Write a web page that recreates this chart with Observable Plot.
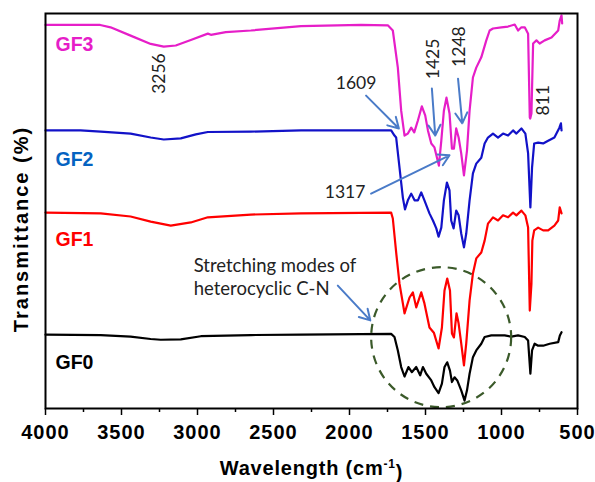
<!DOCTYPE html>
<html><head><meta charset="utf-8">
<script src="https://cdn.jsdelivr.net/npm/d3@7"></script>
<script src="https://cdn.jsdelivr.net/npm/@observablehq/plot@0.6"></script>
<style>
body{margin:0;background:#fff;}
#chart svg{display:block;}
.ftir [aria-label="x-axis tick label"] text{letter-spacing:1px;}
</style></head><body><div id="chart"></div>
<script>
// ---- series ----
const seriesNames = ["GF3", "GF2", "GF1", "GF0"];
const lineColors = ["#e61ec8", "#1212c8", "#ff0000", "#000000"];
const labelColors = ["#e61ec8", "#0563c1", "#ff0000", "#000000"];

const gf3Wave = [4000,3640,3572,3440,3308,3222,3143,3044,2932,2912,2814,2649,2319,1924,1748,1715,1682,1660,1638,1616,1594,1574,1550,1524,1502,1484,1462,1441,1412,1396,1379,1362,1342,1326,1313,1298,1282,1265,1247,1227,1210,1188,1166,1133,1100,1078,1056,1001,957,913,891,869,847,825,814,811,803,792,770,749,716,671,627,617,605,601];
const gf3T = [97.1,97.1,96.5,94.4,92.3,91.6,91.9,93.3,94.9,94.6,95.3,95.7,96.8,97.1,97.0,95.7,86.3,75.4,69.1,69.6,71.1,69.9,72.9,76.5,74.2,70.4,67.1,66.1,61.5,67.8,75.4,78.7,74.7,65.8,65.8,70.9,68.6,64.6,59.0,65.3,75.4,83.8,86.3,88.9,93.2,95.7,96.2,96.5,96.7,97.2,95.7,96.5,96.5,94.9,73.7,73.4,74.7,92.4,93.2,92.4,93.2,93.9,95.7,98.2,99.5,97.5];

const gf2Wave = [4000,3769,3637,3440,3308,3222,3110,3011,2932,2649,2319,1726,1704,1693,1671,1649,1635,1616,1594,1572,1550,1528,1507,1474,1451,1429,1414,1396,1379,1359,1342,1331,1315,1298,1282,1265,1247,1232,1210,1188,1166,1133,1111,1089,1056,1023,990,957,924,902,869,843,825,810,799,785,759,726,693,652,619,609,605];
const gf2T = [70.4,70.4,70.1,69.6,68.6,68.1,68.4,69.4,70.0,70.1,70.4,70.4,69.1,68.6,61.0,53.4,50.4,52.7,54.4,52.7,52.7,54.7,52.7,49.4,47.6,45.6,43.5,45.8,52.7,57.2,55.2,47.6,45.6,50.1,48.9,44.3,40.8,44.3,52.7,59.5,62.0,63.5,67.1,68.6,69.6,68.6,69.6,69.1,70.4,69.6,70.9,69.6,64.6,50.9,61.0,67.1,67.3,67.1,67.8,68.6,71.1,72.2,70.4];

const gf1Wave = [4000,3637,3440,3308,3176,3044,2932,2649,2319,1726,1715,1704,1693,1671,1638,1605,1583,1561,1528,1507,1474,1445,1414,1392,1375,1357,1339,1326,1313,1296,1282,1265,1247,1232,1210,1188,1166,1133,1111,1089,1056,1023,990,957,924,902,869,843,825,814,803,797,785,759,726,693,652,627,617,605];
const gf1T = [49.6,49.4,48.6,47.3,46.3,47.1,48.4,49.1,49.4,49.6,48.1,43.8,39.5,31.6,24.1,28.1,29.4,25.6,29.4,26.6,20.5,19.2,15.2,20.5,29.9,32.9,29.9,19.0,18.0,24.1,21.5,16.5,10.9,16.5,27.3,34.2,38.0,39.5,42.5,46.8,48.4,47.6,48.9,48.4,49.6,48.9,50.1,48.9,45.8,24.8,31.6,42.5,45.1,45.8,45.1,45.1,46.3,47.6,50.9,49.4];

const gf0Wave = [4000,3637,3440,3308,3242,3110,2978,2649,2319,1726,1704,1682,1660,1638,1612,1590,1561,1535,1517,1495,1462,1441,1414,1392,1375,1357,1339,1326,1309,1291,1265,1243,1227,1210,1188,1166,1133,1111,1067,1023,979,935,891,847,825,810,799,782,759,726,683,627,616,605];
const gf0T = [18.7,18.6,18.2,17.6,17.4,17.5,18.3,18.6,18.7,18.9,18.1,14.7,10.5,8.1,10.5,9.2,10.5,8.4,10.5,8.8,7.1,5.4,3.9,6.3,10.5,11.7,9.6,6.7,7.9,7.1,4.6,2.0,4.6,8.8,13.0,14.7,16.4,18.1,18.5,18.5,18.5,18.2,18.5,18.1,17.2,8.8,14.7,16.4,15.9,15.9,16.4,16.8,18.5,19.3];

// ---- axis ticks ----
const majorTicks = [4000,3500,3000,2500,2000,1500,1000,500];
const minorTicks = [3750,3250,2750,2250,1750,1250,750];

// ---- series labels ----
const labelWave = [3934, 3934, 3934, 3934];
const labelT = [92.2, 63.0, 42.8, 11.5];

// ---- peak annotations ----
const vNoteText = ["3256", "1425", "1248", "811"];
const vNoteWave = [3252, 1451, 1276, 726];
const vNoteT = [84.8, 88.5, 91.6, 78.0];
const hNoteText = ["1609", "1317"];
const hNoteWave = [1957, 2029];
const hNoteT = [82.2, 54.7];
const stretchText = ["Stretching modes of\nheterocyclic C-N"];
const stretchWave = [3025];
const stretchT = [33.5];

const arrowFromWave = [1891, 1458, 1286, 1858, 2077];
const arrowFromT = [79.2, 81.0, 83.5, 54.4, 31.1];
const arrowToWave = [1675, 1436, 1258, 1342, 1863];
const arrowToT = [70.9, 69.1, 72.2, 64.1, 22.3];

const circleWave = [1397];
const circleT = [18.05];

// ---- build tables ----
const waves = [gf3Wave, gf2Wave, gf1Wave, gf0Wave];
const trans = [gf3T, gf2T, gf1T, gf0T];
const spectra = seriesNames.flatMap((name, i) => {
  const n = Math.min(waves[i].length, trans[i].length);
  return d3.range(n).map(j => ({series: name, wave: waves[i][j], t: trans[i][j]}));
});
const labels = seriesNames.map((name, i) => ({name, wave: labelWave[i], t: labelT[i], color: labelColors[i]}));
const vNotes = vNoteText.map((s, i) => ({s, wave: vNoteWave[i], t: vNoteT[i]}));
const hNotes = hNoteText.map((s, i) => ({s, wave: hNoteWave[i], t: hNoteT[i]}));
const stretch = stretchText.map((s, i) => ({s, wave: stretchWave[i], t: stretchT[i]}));
const arrows = arrowFromWave.map((w, i) => ({x1: w, y1: arrowFromT[i], x2: arrowToWave[i], y2: arrowToT[i]}));
const circles = circleWave.map((w, i) => ({wave: w, t: circleT[i]}));

const noteFont = "Lato, 'Open Sans', sans-serif";

const plot = Plot.plot({
  width: 595, height: 482,
  marginLeft: 45, marginRight: 18, marginTop: 13, marginBottom: 74,
  className: "ftir",
  style: {fontFamily: "'Liberation Sans', Arial, sans-serif", background: "#fff", color: "#000", overflow: "visible"},
  x: {domain: [4000, 500], label: null},
  y: {domain: [0, 100], axis: null},
  color: {domain: seriesNames, range: lineColors},
  marks: [
    Plot.axisX({ticks: minorTicks, tickSize: 4, text: null, label: null, strokeWidth: 1.5}),
    Plot.axisX({ticks: majorTicks, tickSize: 7, tickPadding: 9, fontSize: 20, fontWeight: "bold",
      tickFormat: d => String(d), label: null, strokeWidth: 1.5}),
    Plot.line(spectra, {x: "wave", y: "t", z: "series", stroke: "series", strokeWidth: 2.2, curve: "linear"}),
    Plot.dot(circles, {x: "wave", y: "t", r: 70, stroke: "#3b5a2a", strokeWidth: 2.2, strokeDasharray: "9,7", fill: "none"}),
    Plot.arrow(arrows, {x1: "x1", y1: "y1", x2: "x2", y2: "y2", stroke: "#4a7bc8", strokeWidth: 2, headLength: 9}),
    Plot.text(labels, {x: "wave", y: "t", text: "name", fill: "color", textAnchor: "start",
      fontSize: 19.5, fontWeight: "bold"}),
    Plot.text(vNotes, {x: "wave", y: "t", text: "s", rotate: -90, fontSize: 17.5, fontFamily: noteFont, fill: "#222"}),
    Plot.text(hNotes, {x: "wave", y: "t", text: "s", fontSize: 17.5, fontFamily: noteFont, fill: "#222"}),
    Plot.text(stretch, {x: "wave", y: "t", text: "s", textAnchor: "start", lineHeight: 1.25,
      fontSize: 18.5, fontFamily: noteFont, fill: "#222"}),
    Plot.text(["Transmittance (%)"], {frameAnchor: "left", textAnchor: "middle", dx: -24, dy: 18, rotate: -90, text: d => d,
      fontSize: 20, fontWeight: "bold"}),
    Plot.text(["Wavelength (cm-1)"], {frameAnchor: "bottom", textAnchor: "middle", dy: 66, text: d => d,
      fontSize: 20, fontWeight: "bold"}),
    Plot.frame({stroke: "#000", strokeWidth: 2})
  ]
});

const svg = d3.select(plot);
svg.selectAll("text").filter(function() { return this.textContent === "Transmittance (%)"; })
  .attr("letter-spacing", "2px");
svg.selectAll("text").filter(function() { return this.textContent === "Wavelength (cm-1)"; })
  .each(function() {
    const t = d3.select(this);
    t.text(null).attr("letter-spacing", "0.8px");
    t.append("tspan").text("Wavelength (cm");
    t.append("tspan").attr("dy", "-0.55em").attr("font-size", "12px").text("-1");
    t.append("tspan").attr("dy", "0.55em").text(")");
  });

document.getElementById("chart").appendChild(plot);
</script>
</body></html>
